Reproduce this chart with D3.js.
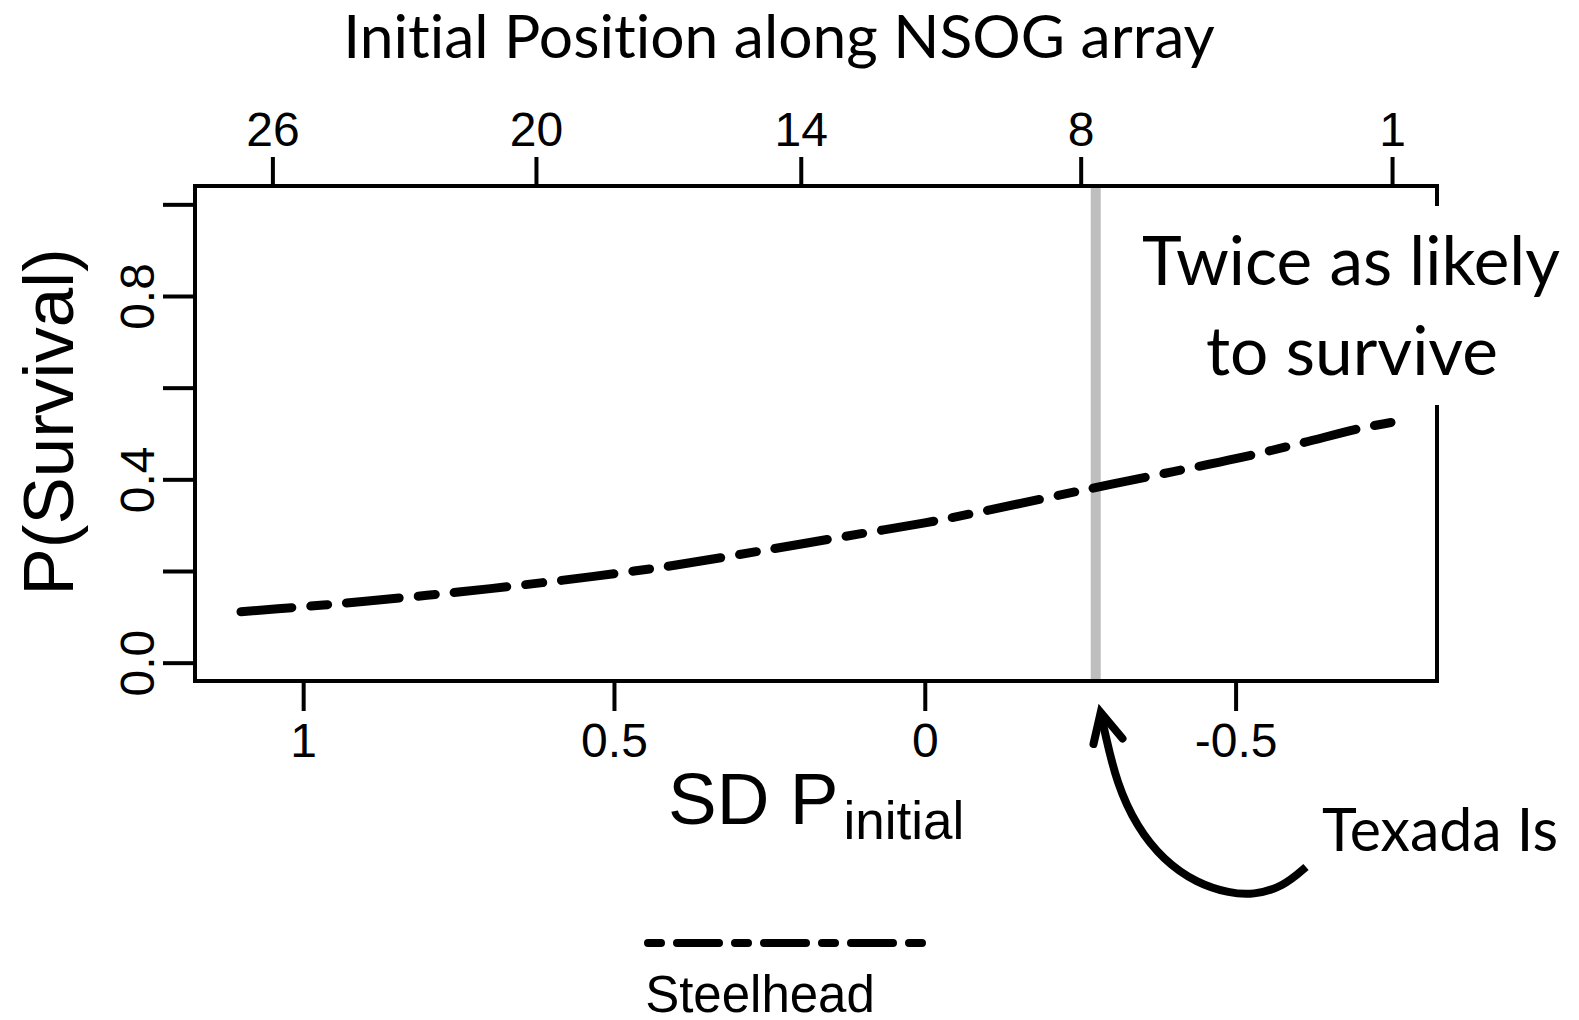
<!DOCTYPE html>
<html>
<head>
<meta charset="utf-8">
<script src="https://cdn.jsdelivr.net/npm/d3@7"></script>
<style>
  html, body { margin: 0; padding: 0; background: #ffffff; }
  svg { display: block; }
  text { font-variant-ligatures: none; font-feature-settings: "liga" 0, "clig" 0; }
</style>
</head>
<body>
<div id="chart"></div>
<script>
// ---------------- data ----------------
const sdValues   = [-0.75, -0.70, -0.60, -0.50, -0.40, -0.25, -0.10, 0.00, 0.10, 0.25, 0.40, 0.50, 0.60, 0.75, 0.90, 1.00, 1.10];
const pSurvival  = [0.524, 0.511, 0.477, 0.445, 0.417, 0.375, 0.332, 0.305, 0.282, 0.247, 0.213, 0.194, 0.177, 0.154, 0.134, 0.122, 0.111];
const bottomTicks = [1, 0.5, 0, -0.5];
const bottomTickLabels = ["1", "0.5", "0", "-0.5"];
const topTickSD = [1.0495, 0.6255, 0.1995, -0.2508, -0.7517];
const topTickLabels = ["26", "20", "14", "8", "1"];
const yTicks = [0, 0.2, 0.4, 0.6, 0.8, 1.0];
const yTickLabels = ["0.0", "", "0.4", "", "0.8", ""];
const texadaSD = -0.275;
const seriesName = "Steelhead";

// ---------------- layout ----------------
const W = 1579, H = 1020;
const box = { left: 195, right: 1437, top: 186, bottom: 681 };

const svg = d3.select("#chart").append("svg")
  .attr("width", W).attr("height", H)
  .style("background", "#fff");

const xExt = [-0.75, 1.10];
const xPad = (xExt[1] - xExt[0]) * 0.04;
const x = d3.scaleLinear().domain([xExt[1] + xPad, xExt[0] - xPad]).range([box.left, box.right]);
const y = d3.scaleLinear().domain([-0.04, 1.04]).range([box.bottom, box.top]);

const arial = "'Liberation Sans', Arial, Helvetica, sans-serif";
const calibri = "Lato, 'Open Sans', sans-serif";

function fitWidth(sel, target) {
  const node = sel.node();
  const fs = parseFloat(sel.attr("font-size"));
  const w = node.getBBox().width;
  sel.attr("font-size", fs * target / w);
}

// Texada line (behind box)
svg.append("line")
  .attr("x1", x(texadaSD)).attr("x2", x(texadaSD))
  .attr("y1", box.top).attr("y2", box.bottom)
  .attr("stroke", "#bebebe").attr("stroke-width", 10);

// Curve
const data = sdValues.map((s, i) => ({ sd: s, p: pSurvival[i] }));
const line = d3.line().x(d => x(d.sd)).y(d => y(d.p)).curve(d3.curveCatmullRom.alpha(0.5));
svg.append("path")
  .datum(data)
  .attr("d", line)
  .attr("fill", "none")
  .attr("stroke", "#000")
  .attr("stroke-width", 9)
  .attr("stroke-linecap", "round")
  .attr("stroke-dasharray", "17,19,53,19");

// Box
svg.append("rect")
  .attr("x", box.left).attr("y", box.top)
  .attr("width", box.right - box.left).attr("height", box.bottom - box.top)
  .attr("fill", "none").attr("stroke", "#000").attr("stroke-width", 4);

// Bottom axis
const bottomAxis = d3.axisBottom(x).tickValues(bottomTicks)
  .tickFormat((d, i) => bottomTickLabels[i]).tickSize(30).tickPadding(16);
const gB = svg.append("g").attr("transform", `translate(0,${box.bottom})`).call(bottomAxis);
gB.select(".domain").remove();
gB.selectAll(".tick line").attr("stroke", "#000").attr("stroke-width", 4);
gB.selectAll(".tick text").attr("font-family", arial).attr("font-size", 48).attr("fill", "#000")
  .attr("dy", null).attr("y", 76);

// Top axis
const topAxis = d3.axisTop(x).tickValues(topTickSD)
  .tickFormat((d, i) => topTickLabels[i]).tickSize(29).tickPadding(10);
const gT = svg.append("g").attr("transform", `translate(0,${box.top})`).call(topAxis);
gT.select(".domain").remove();
gT.selectAll(".tick line").attr("stroke", "#000").attr("stroke-width", 4);
gT.selectAll(".tick text").attr("font-family", arial).attr("font-size", 48).attr("fill", "#000")
  .attr("dy", null).attr("y", 146 - box.top);

// Left axis
const leftAxis = d3.axisLeft(y).tickValues(yTicks)
  .tickFormat((d, i) => yTickLabels[i]).tickSize(32);
const gL = svg.append("g").attr("transform", `translate(${box.left},0)`).call(leftAxis);
gL.select(".domain").remove();
gL.selectAll(".tick line").attr("stroke", "#000").attr("stroke-width", 4);
gL.selectAll(".tick text")
  .attr("font-family", arial).attr("font-size", 48).attr("fill", "#000")
  .attr("x", null).attr("dy", null)
  .attr("text-anchor", "middle")
  .attr("transform", `translate(${154 - box.left},0) rotate(-90)`);

// Title
const title = svg.append("text")
  .attr("x", 779).attr("y", 58)
  .attr("text-anchor", "middle")
  .attr("font-family", calibri).attr("font-size", 62).attr("fill", "#000")
  .text("Initial Position along NSOG array");
fitWidth(title, 872);

// Y title
svg.append("text")
  .attr("transform", "translate(72.5,422) rotate(-90)")
  .attr("text-anchor", "middle")
  .attr("font-family", arial).attr("font-size", 71).attr("fill", "#000")
  .text("P(Survival)");

// X title
const xt = svg.append("text")
  .attr("x", 668).attr("y", 824)
  .attr("font-family", arial).attr("font-size", 73).attr("fill", "#000");
xt.append("tspan").text("SD P");
xt.append("tspan").attr("font-size", 53).attr("dy", 15).attr("dx", 5).text("initial");

// White mask behind annotation text
svg.append("rect")
  .attr("x", 1125).attr("y", 206).attr("width", W - 1125).attr("height", 199)
  .attr("fill", "#fff");

const t1 = svg.append("text")
  .attr("x", 1351).attr("y", 285).attr("text-anchor", "middle")
  .attr("font-family", calibri).attr("font-size", 66).attr("fill", "#000")
  .text("Twice as likely");
fitWidth(t1, 418);
const t2 = svg.append("text")
  .attr("x", 1352).attr("y", 374.5).attr("text-anchor", "middle")
  .attr("font-family", calibri).attr("font-size", 66).attr("fill", "#000")
  .text("to survive");
fitWidth(t2, 292);

// Texada label
const tx = svg.append("text")
  .attr("x", 1440).attr("y", 851).attr("text-anchor", "middle")
  .attr("font-family", calibri).attr("font-size", 62).attr("fill", "#000")
  .text("Texada Is");
fitWidth(tx, 236);

// Curved arrow (annotation)
const arrowPts = [[1306, 867], [1283, 887], [1253, 895], [1230, 893.3], [1196.7, 883.3],
  [1163.3, 860], [1136.7, 826.7], [1116.7, 783.3], [1105, 733.3], [1101, 714]];
svg.append("path")
  .attr("d", d3.line().curve(d3.curveBasis)(arrowPts))
  .attr("fill", "none").attr("stroke", "#000").attr("stroke-width", 8);
svg.append("path")
  .attr("d", "M1093.5,744 L1100.7,712.5 L1122.5,738.5")
  .attr("fill", "none").attr("stroke", "#000").attr("stroke-width", 8)
  .attr("stroke-linecap", "round").attr("stroke-linejoin", "miter");

// Legend
const legX = d3.scaleLinear().domain([0, 1]).range([648, 923]);
svg.append("line")
  .attr("x1", legX(0)).attr("x2", legX(1)).attr("y1", 943).attr("y2", 943)
  .attr("stroke", "#000").attr("stroke-width", 8)
  .attr("stroke-linecap", "round").attr("stroke-dasharray", "13,16,42,16");
svg.append("text")
  .attr("x", 760).attr("y", 1012).attr("text-anchor", "middle")
  .attr("font-family", arial).attr("font-size", 51).attr("fill", "#000")
  .text(seriesName);
</script>
</body>
</html>
